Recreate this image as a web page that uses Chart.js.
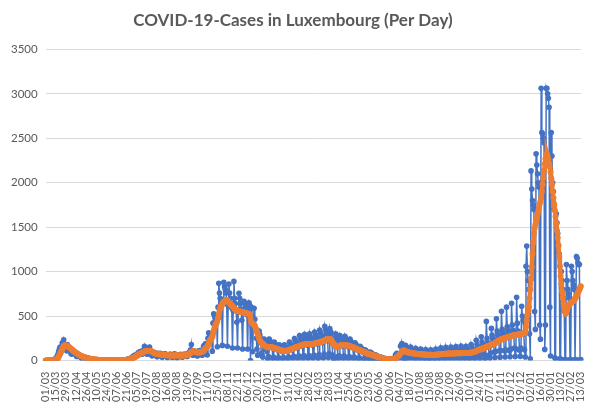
<!DOCTYPE html>
<html><head><meta charset="utf-8">
<script src="https://cdn.jsdelivr.net/npm/chart.js@4.4.1/dist/chart.umd.min.js"></script>
<style>html,body{margin:0;padding:0;background:#fff;}#wrap{width:597px;height:405px;}</style>
</head><body><div id="wrap"><canvas id="c" width="597" height="405"></canvas></div>
<script>
// Daily new cases (one row per week, Sunday..Saturday), starting Sun 01/03/2020
const dailyCases = [
0,0,0,0,1,0,1,
1,2,3,5,7,12,18,
20,25,50,70,100,130,150,
130,150,200,190,234,180,160,
140,110,180,160,150,130,120,
80,70,120,110,100,90,80,
60,45,70,65,55,50,45,
30,25,45,40,35,35,30,
18,15,25,22,20,18,15,
10,8,14,12,10,10,8,
6,5,8,7,6,6,5,
4,3,6,5,5,4,3,
3,2,6,5,4,4,3,
3,2,5,6,5,5,4,
4,3,6,5,6,6,5,
5,4,8,7,8,9,8,
8,8,15,18,20,25,22,
25,28,45,50,55,60,55,
50,55,85,90,95,100,90,
70,70,115,110,160,120,105,
75,70,130,110,150,110,95,
55,55,95,85,90,85,70,
45,45,80,70,75,80,65,
40,40,70,65,70,75,60,
40,35,65,60,70,70,55,
40,35,70,65,75,65,55,
35,35,65,60,65,70,55,
40,40,70,65,70,70,55,
45,50,85,85,100,120,180,
70,60,110,100,95,90,80,
50,55,110,105,110,115,105,
60,75,160,170,180,190,175,
62,250,312,300,288,275,262,
105,420,525,504,483,462,441,
155,600,870,760,700,640,615,
170,680,880,830,800,760,640,
160,620,860,760,700,650,590,
140,560,890,700,640,560,430,
140,545,756,700,640,580,454,
130,530,666,650,620,600,514,
130,520,650,620,0,600,400,
100,420,587,463,360,250,130,
60,250,330,290,250,80,70,
40,130,240,220,200,120,100,
18,45,240,218,203,188,140,
16,39,208,189,176,163,121,
13,33,176,160,149,138,102,
13,33,176,160,149,138,102,
16,39,208,189,176,163,121,
19,47,248,225,209,194,144,
21,53,280,254,236,219,163,
22,56,296,268,250,231,172,
22,56,300,262,255,228,172,
24,60,320,290,270,250,186,
26,65,344,312,290,269,200,
29,72,384,348,324,300,223,
34,79,360,326,304,200,60,
20,20,250,300,250,220,45,
21,53,280,254,236,219,163,
20,51,272,247,230,213,158,
18,45,240,218,203,188,140,
15,38,200,181,169,156,116,
12,30,160,145,135,125,93,
9,23,120,109,101,94,70,
7,18,96,87,81,75,56,
5,12,64,58,54,50,37,
3,7,38,35,32,30,22,
2,4,22,20,19,18,13,
1,3,18,16,15,14,10,
8,12,60,70,80,75,40,
20,50,160,175,192,160,60,
15,0,170,150,130,120,50,
12,36,152,120,104,96,40,
11,32,137,108,94,86,36,
10,31,129,102,88,82,34,
10,29,124,98,85,78,32,
9,28,120,95,82,76,31,
10,31,129,102,88,82,34,
11,34,143,113,98,90,38,
12,35,148,117,101,94,39,
12,36,152,120,104,96,40,
12,37,156,123,107,98,41,
13,38,162,128,110,102,43,
13,38,160,128,112,100,44,
14,43,180,142,124,114,48,
18,54,228,180,156,144,60,
21,63,266,210,182,168,70,
20,30,440,250,200,170,60,
28,85,361,285,247,228,95,
34,101,470,330,290,270,110,
38,112,553,350,310,280,110,
40,120,600,380,340,300,110,
43,128,643,400,340,300,140,
44,133,711,420,330,310,115,
46,140,610,500,450,300,120,
40,1061,1287,1000,900,800,300,
20,2133,1930,1800,1750,1700,550,
350,2325,2200,2100,2000,1950,400,
240,3062,2565,2550,2500,2450,125,
400,3062,3062,3000,2950,2850,600,
50,2565,2300,2000,1900,1700,30,
20,1650,1550,1430,1300,1200,20,
15,1000,900,800,700,560,10,
10,1080,900,800,750,700,10,
10,1060,1000,900,850,800,10,
10,1170,1150,1100,1080,1080,10,
10
];

// 7-day average, same days
const sevenDayAvg = [
0,0,0,0,0,0,0,
1,1,1,2,3,4,7,
10,13,20,29,43,60,78,
92,110,130,145,160,168,172,
170,165,162,157,150,145,141,
133,127,118,110,103,98,93,
88,82,75,70,65,60,56,
53,49,45,42,39,36,34,
32,30,27,25,22,20,19,
18,16,15,13,12,11,10,
10,9,8,7,7,6,6,
6,5,5,5,4,4,4,
4,4,4,4,4,4,4,
4,4,4,4,4,4,4,
4,5,5,5,5,5,5,
5,5,6,6,6,7,7,
8,9,10,12,14,15,17,
20,23,27,32,37,41,45,
50,55,62,68,73,78,81,
84,88,93,97,102,105,107,
107,106,107,106,106,106,106,
101,97,92,88,84,80,76,
75,73,71,70,69,67,66,
65,64,63,62,61,60,60,
60,59,58,58,57,57,56,
56,56,57,57,57,58,58,
58,57,57,56,56,55,55,
55,56,56,57,58,58,59,
60,63,68,73,79,86,95,
99,103,105,104,100,95,92,
90,90,90,91,92,93,94,
98,104,113,122,131,139,144,
155,170,190,210,228,242,250,
270,300,335,365,390,408,421,
445,480,520,560,590,610,621,
635,650,662,670,676,679,680,
675,665,655,645,635,627,620,
612,602,592,582,574,566,560,
558,556,554,552,550,547,545,
543,541,539,537,535,532,530,
528,525,522,518,470,430,420,
416,412,405,390,365,340,320,
295,270,250,230,215,200,190,
185,180,172,165,160,155,150,
148,150,152,153,152,151,150,
147,144,141,138,135,132,130,
127,124,121,118,115,112,110,
108,108,109,109,110,110,110,
113,116,120,123,126,128,130,
134,138,142,146,150,153,155,
158,161,164,167,170,173,175,
177,179,180,181,183,184,185,
185,185,185,185,185,185,185,
187,189,192,194,196,198,200,
202,204,206,208,210,213,215,
218,222,226,230,233,236,237,
238,240,240,238,234,218,200,
190,178,170,168,165,162,158,
160,163,166,169,172,174,175,
175,174,173,172,171,170,170,
167,164,161,158,155,152,150,
146,142,139,135,131,128,125,
121,118,114,110,107,103,100,
96,93,89,86,82,78,75,
73,71,69,66,64,62,60,
57,54,51,48,45,42,40,
38,35,33,30,28,26,24,
22,21,19,18,17,15,14,
13,12,12,12,11,11,11,
14,17,23,31,40,46,49,
60,70,80,90,100,108,115,
112,105,103,100,97,94,91,
89,87,85,84,82,81,80,
79,78,77,75,74,73,72,
71,70,70,69,69,68,68,
68,67,67,66,66,65,65,
65,64,64,64,63,63,63,
64,65,65,66,67,67,68,
69,70,71,72,73,74,75,
75,76,76,77,77,78,78,
78,79,79,79,80,80,80,
80,81,81,81,82,82,82,
82,83,83,84,84,85,85,
85,85,85,85,85,85,85,
86,87,89,90,92,94,95,
98,102,106,110,114,117,120,
123,126,129,132,135,138,140,
143,146,154,158,161,164,167,
170,174,177,181,184,187,190,
194,199,204,210,216,222,229,
232,235,238,241,244,247,250,
253,256,259,262,265,268,270,
272,274,276,278,280,283,285,
286,288,290,291,292,294,295,
296,298,300,302,304,310,318,
320,380,450,510,560,600,700,
800,920,1050,1200,1330,1430,1490,
1530,1570,1600,1640,1680,1720,1760,
1790,1830,1900,1980,2060,2140,2210,
2270,2310,2330,2300,2260,2220,2180,
2120,2050,1980,1900,1830,1760,1690,
1620,1540,1460,1380,1290,1180,1060,
950,860,780,700,640,590,550,
530,540,570,600,620,630,640,
650,655,660,665,670,680,700,
710,730,745,760,780,800,820,
835
];

const yTicks = [0, 500, 1000, 1500, 2000, 2500, 3000, 3500];
const labelEvery = 14;
const firstDay = [2020, 2, 1]; // 01/03/2020

// category labels dd/mm, one per day
const categories = [];
const t0 = Date.UTC(firstDay[0], firstDay[1], firstDay[2]);
for (let i = 0; i < dailyCases.length; i++) {
  const d = new Date(t0 + i * 86400000);
  const dd = String(d.getUTCDate()).padStart(2, '0');
  const mm = String(d.getUTCMonth() + 1).padStart(2, '0');
  categories.push(dd + '/' + mm);
}

const ctx = document.getElementById('c').getContext('2d');
new Chart(ctx, {
  type: 'line',
  data: {
    labels: categories,
    datasets: [
      {
        label: '7-day average',
        data: sevenDayAvg,
        borderColor: '#ED7D31',
        backgroundColor: '#ED7D31',
        pointBackgroundColor: '#ED7D31',
        borderWidth: 4.5,
        pointRadius: 3,
        pointBorderWidth: 0,
        tension: 0,
        order: 0
      },
      {
        label: 'Cases',
        data: dailyCases,
        borderColor: '#4472C4',
        backgroundColor: '#4472C4',
        pointBackgroundColor: '#4472C4',
        borderWidth: 1.5,
        pointRadius: 2.8,
        pointBorderWidth: 0,
        tension: 0,
        order: 1
      }
    ]
  },
  options: {
    responsive: false,
    animation: false,
    devicePixelRatio: 1,
    layout: { padding: { left: 3, right: 14, top: 0, bottom: 0 } },
    plugins: {
      legend: { display: false },
      tooltip: { enabled: false },
      title: {
        display: true,
        text: 'COVID-19-Cases in Luxembourg (Per Day)',
        color: '#595959',
        font: { family: 'Lato', size: 17, weight: 'bold' },
        padding: { top: 10, bottom: 19 }
      }
    },
    scales: {
      x: {
        type: 'category',
        offset: false,
        grid: { display: false },
        border: { display: false },
        ticks: {
          autoSkip: false,
          maxRotation: 90,
          minRotation: 90,
          color: '#595959',
          font: { family: 'Lato', size: 11 },
          padding: 3,
          callback: function (v, i) { return i % labelEvery === 0 ? this.getLabelForValue(v) : ''; }
        }
      },
      y: {
        min: 0,
        max: 3500,
        afterBuildTicks: s => { s.ticks = yTicks.map(v => ({ value: v })); },
        grid: { color: '#d9d9d9', drawTicks: false },
        border: { display: false },
        ticks: {
          color: '#595959',
          font: { family: 'Lato', size: 11.5 },
          padding: 8,
          callback: v => String(v)
        }
      }
    }
  }
});
</script>
</body></html>
